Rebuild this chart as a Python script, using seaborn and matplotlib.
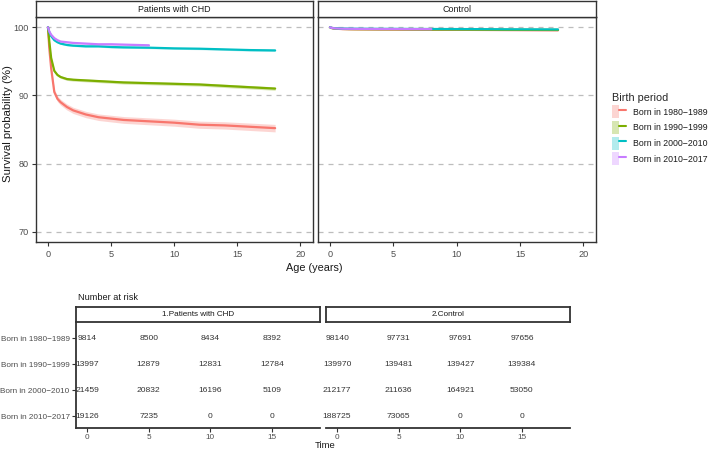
import numpy as np
import pandas as pd
import matplotlib
matplotlib.use("Agg")
import matplotlib.pyplot as plt
import seaborn as sns
from matplotlib.patches import Patch
from matplotlib.lines import Line2D
from matplotlib.legend_handler import HandlerTuple

# survival estimates (%), by age in years
age = [0, 0.1, 0.25, 0.5, 0.75, 1, 1.5, 2, 3, 4, 5, 6, 8, 10, 12, 14, 16, 18]
age_2010 = [0, 0.1, 0.25, 0.5, 0.75, 1, 1.5, 2, 3, 4, 5, 6, 8]

chd_1980 = [100, 97.0, 94.0, 90.5, 89.5, 89.0, 88.3, 87.8, 87.2, 86.8, 86.6, 86.4, 86.2, 86.0, 85.7, 85.6, 85.4, 85.2]
chd_1990 = [100, 98.0, 95.5, 93.6, 93.0, 92.7, 92.4, 92.3, 92.2, 92.1, 92.0, 91.9, 91.8, 91.7, 91.6, 91.4, 91.2, 91.0]
chd_2000 = [100, 99.3, 98.7, 98.1, 97.8, 97.6, 97.4, 97.3, 97.2, 97.2, 97.1, 97.05, 97.0, 96.9, 96.85, 96.75, 96.65, 96.6]
chd_2010 = [100, 99.4, 98.9, 98.4, 98.1, 97.9, 97.8, 97.7, 97.6, 97.5, 97.5, 97.45, 97.35]

ctl_1980 = [100, 99.9, 99.82, 99.78, 99.75, 99.72, 99.7, 99.69, 99.68, 99.67, 99.66, 99.65, 99.63, 99.62, 99.6, 99.58, 99.56, 99.55]
ctl_1990 = [100, 99.9, 99.84, 99.8, 99.77, 99.75, 99.73, 99.72, 99.71, 99.7, 99.7, 99.69, 99.67, 99.66, 99.64, 99.62, 99.61, 99.6]
ctl_2000 = [100, 99.92, 99.87, 99.84, 99.82, 99.8, 99.79, 99.78, 99.77, 99.76, 99.76, 99.75, 99.74, 99.73, 99.72, 99.7, 99.69, 99.68]
ctl_2010 = [100, 99.92, 99.86, 99.82, 99.8, 99.78, 99.77, 99.76, 99.75, 99.74, 99.74, 99.73, 99.72]

# half width of the confidence band (%)
ci_chd = [0.55, 0.25, 0.15, 0.15]
ci_ctl = [0.05, 0.05, 0.05, 0.05]

periods = ["Born in 1980\u22121989", "Born in 1990\u22121999", "Born in 2000\u22122010", "Born in 2010\u22122017"]
colors = ["#F8766D", "#7CAE00", "#00BFC4", "#C77CFF"]

# number at risk table
risk_times = [0, 5, 10, 15]
risk_chd = [[9814, 8500, 8434, 8392],
            [13997, 12879, 12831, 12784],
            [21459, 20832, 16196, 5109],
            [19126, 7235, 0, 0]]
risk_ctl = [[98140, 97731, 97691, 97656],
            [139970, 139481, 139427, 139384],
            [212177, 211636, 164921, 53050],
            [188725, 73065, 0, 0]]


def long_df(series):
    rows = []
    for p, (x, y) in zip(periods, series):
        rows.append(pd.DataFrame({"age": x, "surv": y, "period": p}))
    return pd.concat(rows, ignore_index=True)


chd = long_df([(age, chd_1980), (age, chd_1990), (age, chd_2000), (age_2010, chd_2010)])
ctl = long_df([(age, ctl_1980), (age, ctl_1990), (age, ctl_2000), (age_2010, ctl_2010)])

sns.set_theme(style="white")
plt.rcParams["font.family"] = ["Liberation Sans", "DejaVu Sans"]

W, H = 709, 450
fig = plt.figure(figsize=(W / 100, H / 100), dpi=100)


def box(x0, y0, x1, y1):
    return [x0 / W, 1 - y1 / H, (x1 - x0) / W, (y1 - y0) / H]


gray_txt = "#4d4d4d"
spine_c = "#333333"


def strip(rect, label, lw=1.0, size=6.4, col="#1a1a1a"):
    s = fig.add_axes(rect)
    s.set_xticks([])
    s.set_yticks([])
    for sp in s.spines.values():
        sp.set_color(spine_c)
        sp.set_linewidth(lw)
    s.text(0.5, 0.5, label, ha="center", va="center", fontsize=size, color=col)
    return s


panels = []
for i, (df, title, ci) in enumerate([(chd, "Patients with CHD", ci_chd), (ctl, "Control", ci_ctl)]):
    x0 = 36 if i == 0 else 318
    x1 = 313 if i == 0 else 596
    ax = fig.add_axes(box(x0, 17, x1, 242))
    strip(box(x0, 1, x1, 17), title)
    for p, c, h in zip(periods, colors, ci):
        d = df[df["period"] == p]
        w = h * np.linspace(0.2, 1, len(d)) ** 0.3
        ax.fill_between(d["age"], d["surv"] - w, d["surv"] + w, color=c, alpha=0.3, lw=0)
    sns.lineplot(data=df, x="age", y="surv", hue="period", palette=colors,
                 hue_order=periods, lw=1.6, ax=ax, legend=False, errorbar=None)
    ax.set_xlim(-0.95, 21)
    ax.set_ylim(68.5, 101.5)
    ax.set_xticks([0, 5, 10, 15, 20])
    ax.set_yticks([70, 80, 90, 100])
    ax.yaxis.grid(True, ls=(0, (4, 4)), color="#bdbdbd", lw=0.9)
    ax.set_xlabel("")
    ax.set_ylabel("")
    for sp in ax.spines.values():
        sp.set_color(spine_c)
        sp.set_linewidth(1.0)
    ax.tick_params(axis="both", colors=spine_c, labelcolor=gray_txt, labelsize=6.6,
                   length=3, width=0.8, bottom=True, left=(i == 0), pad=2.5)
    if i == 1:
        ax.set_yticklabels([])
    panels.append(ax)

fig.text(8 / W, 1 - 124 / H, "Survival probability (%)", rotation=90, ha="center", va="center",
         fontsize=8.2, color="#1a1a1a")
fig.text(314 / W, 1 - 268 / H, "Age (years)", ha="center", va="center", fontsize=7.8, color="#1a1a1a")

handles = [(Patch(facecolor=c, alpha=0.3, lw=0), Line2D([], [], color=c, lw=1.5)) for c in colors]
leg = fig.legend(handles, periods, handler_map={tuple: HandlerTuple(ndivide=None, pad=0)},
                 loc="upper left", bbox_to_anchor=(604 / W, 1 - 85 / H), frameon=False,
                 title="Birth period", fontsize=6.3, title_fontsize=7.8,
                 handlelength=1.6, handleheight=1.9, labelspacing=0.3, handletextpad=0.8,
                 alignment="left")
for t in leg.get_texts():
    t.set_color("#1a1a1a")

# number at risk table
fig.text(78 / W, 1 - 298 / H, "Number at risk", ha="left", va="center", fontsize=6.6, color="#1a1a1a")
for j, (tab, title) in enumerate([(risk_chd, "1.Patients with CHD"), (risk_ctl, "2.Control")]):
    x0 = 76 if j == 0 else 326
    x1 = 320 if j == 0 else 570
    strip(box(x0, 307, x1, 322), title, lw=1.3, size=5.9)
    tx = fig.add_axes(box(x0, 322, x1, 428))
    tx.set_xlim(-0.9, 18.9)
    tx.set_ylim(3.46, -0.62)
    for r, row in enumerate(tab):
        for t, n in zip(risk_times, row):
            tx.text(t, r, str(n), ha="center", va="center", fontsize=6.1, color="#333333")
    tx.set_xticks(risk_times)
    tx.set_yticks(range(4))
    tx.set_yticklabels(periods if j == 0 else [])
    tx.spines["top"].set_visible(False)
    tx.spines["right"].set_visible(False)
    tx.spines["left"].set_visible(j == 0)
    for sp in tx.spines.values():
        sp.set_color(spine_c)
        sp.set_linewidth(1.3)
    tx.tick_params(axis="both", colors=spine_c, labelcolor=gray_txt, labelsize=5.9,
                   length=3, width=0.8, bottom=True, left=(j == 0), pad=1.5)
    tx.set_facecolor("none")

fig.text(325 / W, 1 - 446 / H, "Time", ha="center", va="center", fontsize=6.8, color="#1a1a1a")

fig.savefig("out.png", dpi=100)
